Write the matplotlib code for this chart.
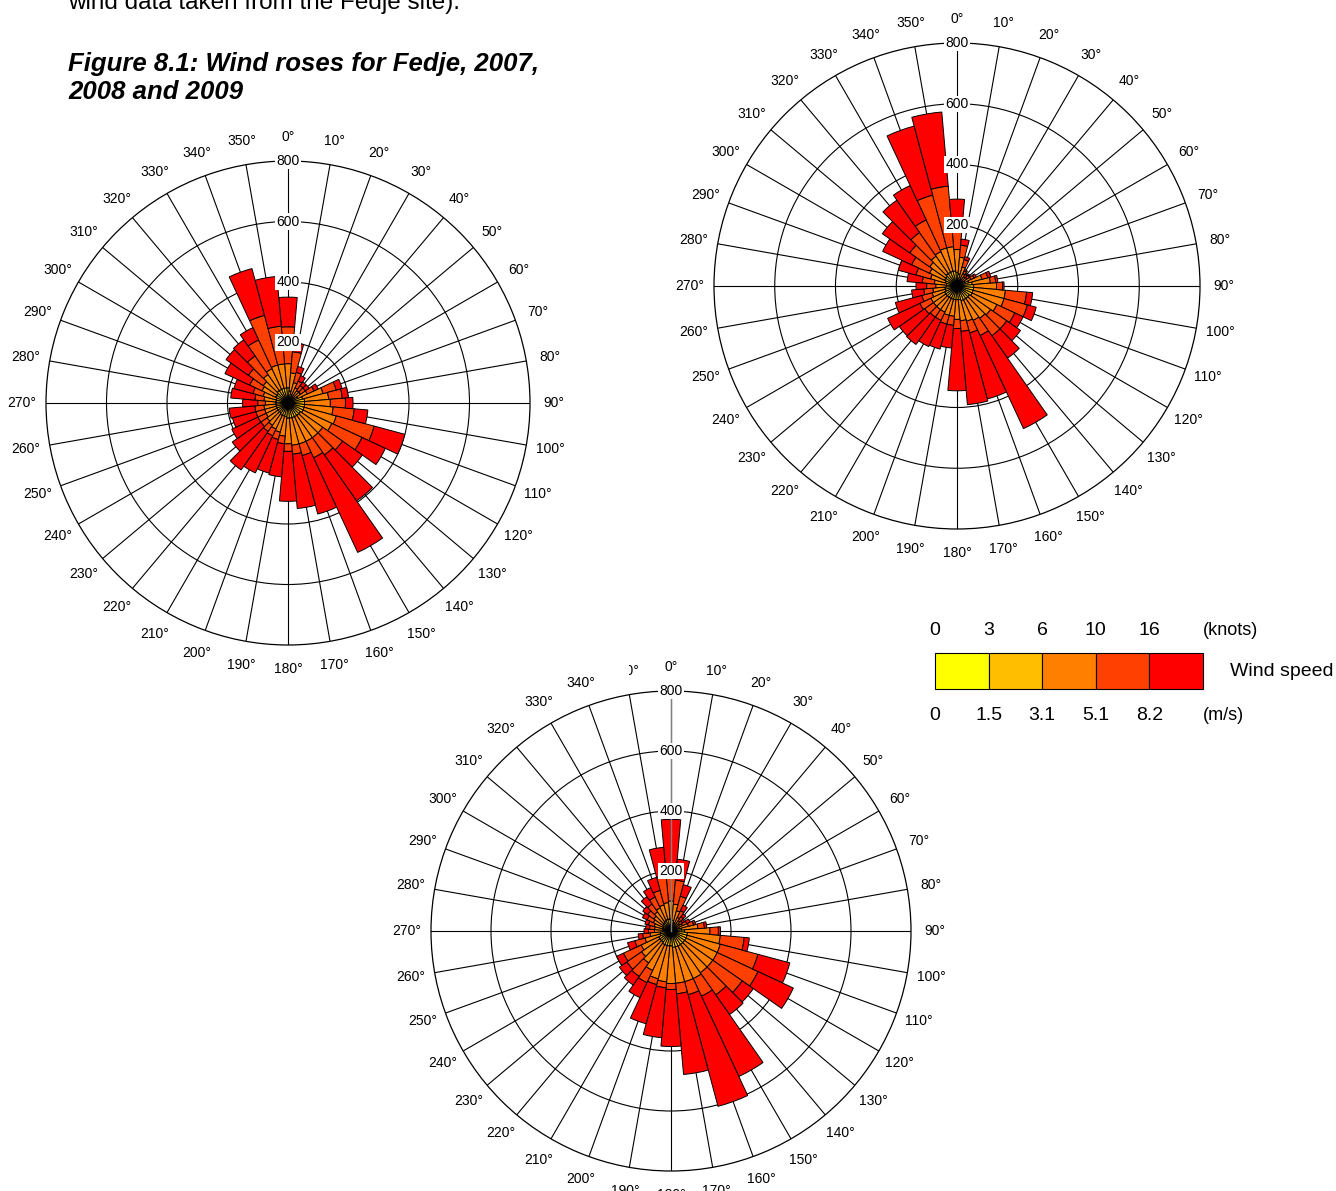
import numpy as np
import matplotlib
matplotlib.use("Agg")
import matplotlib.pyplot as plt
from matplotlib.patches import Rectangle

plt.rcParams["font.family"] = ["Liberation Sans", "DejaVu Sans"]

W, H = 1336, 1191

directions = list(range(0, 360, 10))
speed_colors = ["#FFFF00", "#FFBF00", "#FF8000", "#FF4000", "#FF0000"]
knots_labels = ["0", "3", "6", "10", "16"]
ms_labels = ["0", "1.5", "3.1", "5.1", "8.2"]
ring_values = [200, 400, 600, 800]

# cumulative counts per direction up to the upper bound of each speed class
# ---- 2007 ----
y2007_upto3 = [12, 10, 8, 8, 8, 8, 10, 12, 12, 12, 12, 12, 12, 12, 12, 12, 12, 12,
               12, 12, 12, 12, 12, 12, 12, 12, 12, 12, 12, 12, 12, 12, 12, 12, 12, 12]
y2007_upto6 = [50, 40, 30, 25, 25, 25, 35, 50, 55, 55, 55, 55, 55, 50, 50, 50, 50, 50,
               50, 45, 45, 45, 40, 40, 40, 40, 40, 40, 40, 40, 45, 45, 50, 50, 50, 50]
y2007_upto10 = [130, 100, 70, 55, 50, 50, 70, 120, 135, 140, 150, 165, 160, 140, 140, 140, 140, 140,
                135, 110, 100, 95, 90, 85, 80, 80, 80, 75, 80, 85, 95, 100, 115, 125, 130, 130]
y2007_upto16 = [252, 170, 105, 80, 70, 70, 95, 165, 180, 190, 220, 295, 270, 220, 210, 200, 180, 170,
                160, 135, 125, 120, 115, 110, 110, 110, 110, 100, 110, 120, 140, 160, 190, 230, 300, 255]
y2007_total = [350, 200, 125, 100, 85, 85, 110, 185, 200, 215, 265, 400, 355, 300, 395, 545, 380, 350,
               325, 245, 240, 255, 270, 225, 205, 190, 195, 150, 190, 185, 230, 250, 255, 275, 460, 420]

# ---- 2008 ----
y2008_upto3 = [12, 10, 8, 7, 7, 7, 8, 10, 12, 12, 12, 12, 12, 12, 12, 12, 12, 12,
               12, 12, 12, 12, 12, 12, 12, 12, 12, 10, 10, 12, 12, 12, 12, 12, 12, 12]
y2008_upto6 = [45, 40, 30, 25, 20, 22, 28, 40, 50, 55, 55, 55, 55, 50, 50, 50, 50, 45,
               45, 45, 45, 45, 45, 45, 45, 40, 40, 35, 35, 40, 45, 45, 50, 50, 50, 50]
y2008_upto10 = [120, 95, 65, 45, 38, 40, 50, 85, 110, 130, 160, 160, 145, 135, 130, 125, 120, 115,
                110, 100, 100, 95, 95, 95, 95, 85, 80, 70, 75, 90, 100, 110, 120, 125, 130, 130]
y2008_upto16 = [200, 135, 90, 55, 47, 50, 62, 105, 128, 150, 230, 240, 210, 200, 200, 180, 160, 150,
                140, 130, 130, 125, 125, 130, 135, 120, 110, 100, 115, 140, 165, 190, 215, 240, 310, 330]
y2008_total = [286, 155, 100, 60, 50, 55, 70, 115, 135, 155, 250, 270, 240, 255, 290, 518, 385, 392,
               345, 205, 215, 220, 235, 232, 252, 210, 150, 135, 165, 200, 270, 300, 345, 365, 545, 575]

# ---- 2009 ----
y2009_upto3 = [12, 10, 8, 7, 7, 6, 7, 8, 10, 12, 12, 12, 12, 12, 12, 12, 12, 12,
               12, 12, 12, 12, 12, 12, 12, 10, 10, 8, 8, 8, 8, 8, 10, 10, 10, 12]
y2009_upto6 = [40, 35, 28, 22, 20, 18, 20, 28, 35, 45, 55, 55, 55, 55, 55, 55, 55, 55,
               50, 50, 50, 50, 45, 45, 45, 38, 35, 28, 28, 28, 30, 32, 35, 38, 40, 40]
y2009_upto10 = [100, 90, 70, 50, 42, 35, 42, 60, 90, 130, 165, 170, 170, 170, 170, 175, 175, 175,
                175, 170, 165, 145, 130, 120, 110, 90, 70, 55, 55, 58, 65, 70, 78, 85, 90, 95]
y2009_upto16 = [210, 170, 120, 75, 58, 47, 58, 78, 112, 158, 245, 300, 320, 290, 260, 240, 220, 210,
                195, 190, 185, 190, 185, 180, 175, 125, 95, 75, 72, 78, 88, 95, 110, 125, 140, 185]
y2009_total = [372, 240, 160, 95, 70, 55, 70, 85, 120, 165, 262, 410, 450, 335, 340, 535, 605, 480,
               385, 357, 320, 245, 220, 210, 200, 150, 110, 90, 85, 90, 105, 115, 140, 160, 185, 280]

roses = [
    dict(cx=288, cy=403, R=242, data=[y2007_upto3, y2007_upto6, y2007_upto10, y2007_upto16, y2007_total], gray0=False),
    dict(cx=957, cy=286, R=243, data=[y2008_upto3, y2008_upto6, y2008_upto10, y2008_upto16, y2008_total], gray0=False),
    dict(cx=671, cy=931, R=240, data=[y2009_upto3, y2009_upto6, y2009_upto10, y2009_upto16, y2009_total], gray0=True),
]

fig = plt.figure(figsize=(W / 100, H / 100), dpi=100)
fig.patch.set_facecolor("white")


def fx(x):
    return x / W


def fy(y):
    return 1 - y / H


theta = np.deg2rad(directions)
width = np.deg2rad(10)

for rose in roses:
    cx, cy, R = rose["cx"], rose["cy"], rose["R"]
    ax = fig.add_axes([fx(cx - R), fy(cy + R), 2 * R / W, 2 * R / H], projection="polar")
    ax.set_theta_zero_location("N")
    ax.set_theta_direction(-1)
    ax.set_ylim(0, 800)
    ax.set_xticks(theta)
    ax.set_xticklabels([])
    ax.set_yticks([200, 400, 600])
    ax.set_yticklabels([])
    ax.grid(True, color="black", linewidth=0.8)
    ax.set_axisbelow(True)
    ax.spines["polar"].set_linewidth(0.9)
    ax.spines["polar"].set_color("black")
    ax.tick_params(length=0)

    prev = np.zeros(len(directions))
    for k, cum in enumerate(rose["data"]):
        cum = np.asarray(cum, dtype=float)
        ax.bar(theta, cum - prev, width=width, bottom=prev, color=speed_colors[k],
               edgecolor="black", linewidth=0.7, zorder=2, align="center")
        prev = cum

    if rose["gray0"]:
        ax.plot([0, 0], [0, 800], color="#808080", linewidth=1.0, zorder=3)

    for d in directions:
        ax.text(np.deg2rad(d), 880, f"{d}°", ha="center", va="center",
                fontsize=10, clip_on=False, zorder=6)
    for v in ring_values:
        ax.text(0, v, str(v), ha="center", va="center", fontsize=10, zorder=7,
                bbox=dict(boxstyle="square,pad=0.08", fc="white", ec="none"))

# white area hiding part of the "350°" label of the lower rose
fig.add_artist(Rectangle((fx(598), fy(682)), (628.5 - 598) / W, (682 - 655) / H,
                         transform=fig.transFigure, facecolor="white", edgecolor="none", zorder=10))

# header text
fig.text(fx(68), fy(9), "wind data taken from the Fedje site).", fontsize=17.5,
         ha="left", va="baseline")
fig.text(fx(68), fy(71), "Figure 8.1: Wind roses for Fedje, 2007,", fontsize=18.5,
         fontweight="bold", fontstyle="italic", ha="left", va="baseline")
fig.text(fx(68), fy(99), "2008 and 2009", fontsize=18.5,
         fontweight="bold", fontstyle="italic", ha="left", va="baseline")

# speed legend
x0, x1, ly0, ly1 = 935, 1203, 653, 689
bw = (x1 - x0) / len(speed_colors)
for i, c in enumerate(speed_colors):
    fig.add_artist(Rectangle((fx(x0 + i * bw), fy(ly1)), bw / W, (ly1 - ly0) / H,
                             transform=fig.transFigure, facecolor=c, edgecolor="black",
                             linewidth=0.8))
for i, lab in enumerate(knots_labels):
    fig.text(fx(x0 + i * bw), fy(635), lab, fontsize=14, ha="center", va="baseline")
for i, lab in enumerate(ms_labels):
    fig.text(fx(x0 + i * bw), fy(720), lab, fontsize=14, ha="center", va="baseline")
fig.text(fx(1203), fy(635), "(knots)", fontsize=13, ha="left", va="baseline")
fig.text(fx(1203), fy(720), "(m/s)", fontsize=13, ha="left", va="baseline")
fig.text(fx(1230), fy(676), "Wind speed", fontsize=14, ha="left", va="baseline")

fig.savefig("out.png", dpi=100, facecolor="white")
